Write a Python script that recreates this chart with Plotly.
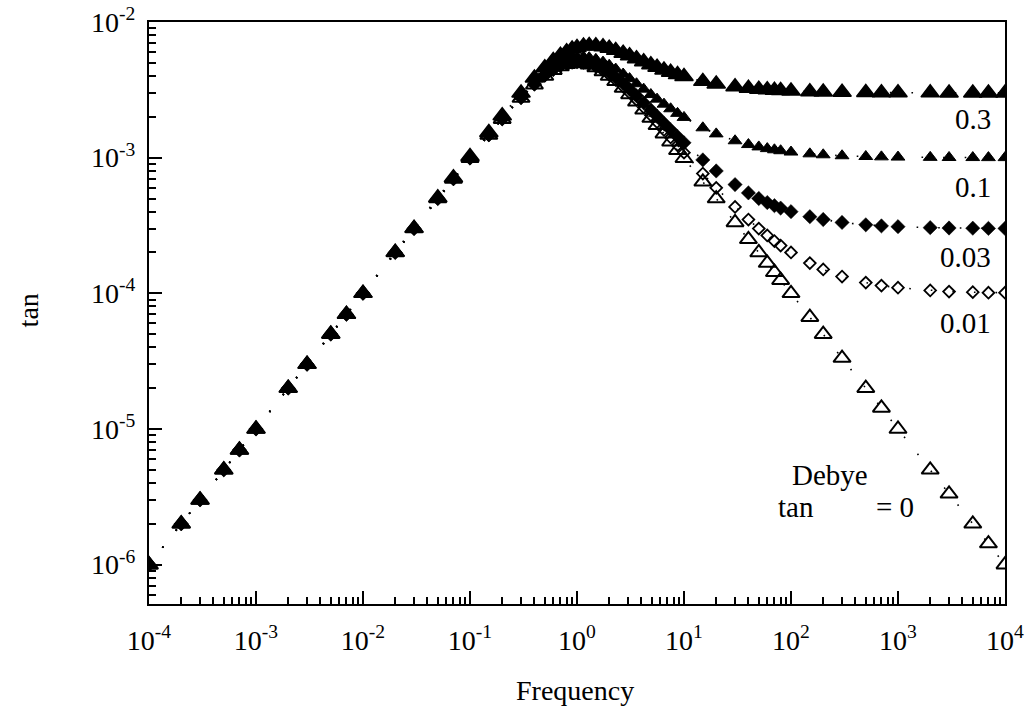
import plotly.graph_objects as go

# Frequencies (shared by all series)
freq = [1e-4, 2e-4, 3e-4, 5e-4, 7e-4,
        1e-3, 2e-3, 3e-3, 5e-3, 7e-3,
        0.01, 0.02, 0.03, 0.05, 0.07,
        0.1, 0.15, 0.2,
        0.3, 0.4, 0.5, 0.6, 0.7, 0.8, 0.9,
        1.0, 1.15, 1.3, 1.5, 1.75,
        2.0, 2.3, 2.7, 3.1, 3.6,
        4.2, 4.9, 5.6, 6.5, 7.5,
        8.7, 10,
        15, 20, 30, 40, 50,
        60, 70, 80, 100,
        150, 200, 300, 500, 700,
        1000, 2000, 3000, 5000, 7000,
        10000]

tan_debye = [1e-6, 2e-6, 3e-6, 5e-6, 7e-6,
             1e-5, 2e-5, 3e-5, 5e-5, 7e-5,
             1.0e-4, 2.0e-4, 3.0e-4, 4.99e-4, 6.97e-4,
             9.90e-4, 1.467e-3, 1.923e-3,
             2.752e-3, 3.448e-3, 4.0e-3, 4.412e-3, 4.698e-3, 4.878e-3, 4.972e-3,
             5.0e-3, 4.952e-3, 4.833e-3, 4.615e-3, 4.308e-3,
             4.0e-3, 3.657e-3, 3.257e-3, 2.922e-3, 2.579e-3,
             2.253e-3, 1.959e-3, 1.731e-3, 1.503e-3, 1.310e-3,
             1.134e-3, 9.90e-4,
             6.64e-4, 4.99e-4, 3.33e-4, 2.50e-4, 2.00e-4,
             1.67e-4, 1.43e-4, 1.25e-4, 1.0e-4,
             6.67e-5, 5.0e-5, 3.33e-5, 2.0e-5, 1.43e-5,
             1.0e-5, 5.0e-6, 3.33e-6, 2.0e-6, 1.43e-6,
             1.0e-6]

tan_001 = [1e-6, 2e-6, 3e-6, 5e-6, 7e-6,
           1e-5, 2e-5, 3e-5, 5e-5, 7e-5,
           1.0e-4, 2.0e-4, 3.0e-4, 4.99e-4, 6.98e-4,
           9.91e-4, 1.469e-3, 1.927e-3,
           2.760e-3, 3.462e-3, 4.02e-3, 4.438e-3, 4.731e-3, 4.917e-3, 5.017e-3,
           5.05e-3, 5.009e-3, 4.896e-3, 4.684e-3, 4.383e-3,
           4.08e-3, 3.741e-3, 3.345e-3, 3.013e-3, 2.672e-3,
           2.348e-3, 2.055e-3, 1.828e-3, 1.601e-3, 1.408e-3,
           1.233e-3, 1.089e-3,
           7.64e-4, 5.99e-4, 4.33e-4, 3.50e-4, 3.00e-4,
           2.67e-4, 2.43e-4, 2.25e-4, 2.00e-4,
           1.67e-4, 1.50e-4, 1.33e-4, 1.20e-4, 1.14e-4,
           1.10e-4, 1.05e-4, 1.03e-4, 1.02e-4, 1.01e-4,
           1.01e-4]

tan_003 = [1e-6, 2e-6, 3e-6, 5e-6, 7e-6,
           1e-5, 2e-5, 3e-5, 5e-5, 7e-5,
           1.0e-4, 2.0e-4, 3.0e-4, 5.0e-4, 6.99e-4,
           9.93e-4, 1.474e-3, 1.935e-3,
           2.777e-3, 3.489e-3, 4.06e-3, 4.491e-3, 4.797e-3, 4.995e-3, 5.106e-3,
           5.15e-3, 5.123e-3, 5.021e-3, 4.823e-3, 4.534e-3,
           4.24e-3, 3.909e-3, 3.521e-3, 3.194e-3, 2.858e-3,
           2.537e-3, 2.247e-3, 2.022e-3, 1.796e-3, 1.605e-3,
           1.430e-3, 1.287e-3,
           9.63e-4, 7.98e-4, 6.33e-4, 5.50e-4, 5.00e-4,
           4.67e-4, 4.43e-4, 4.25e-4, 4.00e-4,
           3.67e-4, 3.50e-4, 3.33e-4, 3.20e-4, 3.14e-4,
           3.10e-4, 3.05e-4, 3.03e-4, 3.02e-4, 3.01e-4,
           3.01e-4]

tan_01 = [1e-6, 2e-6, 3e-6, 5e-6, 7e-6,
          1e-5, 2e-5, 3e-5, 5e-5, 7e-5,
          1.0e-4, 2.0e-4, 3.01e-4, 5.01e-4, 7.02e-4,
          1.0e-3, 1.489e-3, 1.962e-3,
          2.835e-3, 3.586e-3, 4.2e-3, 4.677e-3, 5.027e-3, 5.268e-3, 5.420e-3,
          5.5e-3, 5.521e-3, 5.461e-3, 5.307e-3, 5.062e-3,
          4.8e-3, 4.498e-3, 4.136e-3, 3.828e-3, 3.507e-3,
          3.199e-3, 2.919e-3, 2.700e-3, 2.480e-3, 2.293e-3,
          2.121e-3, 1.980e-3,
          1.660e-3, 1.497e-3, 1.332e-3, 1.249e-3, 1.200e-3,
          1.166e-3, 1.143e-3, 1.125e-3, 1.100e-3,
          1.067e-3, 1.050e-3, 1.033e-3, 1.020e-3, 1.014e-3,
          1.010e-3, 1.005e-3, 1.003e-3, 1.002e-3, 1.001e-3,
          1.001e-3]

tan_03 = [1e-6, 2e-6, 3e-6, 5e-6, 7e-6,
          1e-5, 2.001e-5, 3.003e-5, 5.008e-5, 7.015e-5,
          1.003e-4, 2.012e-4, 3.024e-4, 5.063e-4, 7.112e-4,
          1.020e-3, 1.533e-3, 2.038e-3,
          3.000e-3, 3.862e-3, 4.6e-3, 5.206e-3, 5.685e-3, 6.049e-3, 6.315e-3,
          6.5e-3, 6.660e-3, 6.718e-3, 6.692e-3, 6.570e-3,
          6.4e-3, 6.180e-3, 5.895e-3, 5.639e-3, 5.364e-3,
          5.092e-3, 4.839e-3, 4.638e-3, 4.434e-3, 4.258e-3,
          4.095e-3, 3.960e-3,
          3.651e-3, 3.492e-3, 3.330e-3, 3.248e-3, 3.199e-3,
          3.166e-3, 3.143e-3, 3.125e-3, 3.100e-3,
          3.067e-3, 3.050e-3, 3.033e-3, 3.020e-3, 3.014e-3,
          3.010e-3, 3.005e-3, 3.003e-3, 3.002e-3, 3.001e-3,
          3.001e-3]

x_tick_vals = [1e-4, 1e-3, 1e-2, 1e-1, 1, 10, 100, 1000, 10000]
x_tick_text = ["10<sup>-4</sup>", "10<sup>-3</sup>", "10<sup>-2</sup>", "10<sup>-1</sup>",
               "10<sup>0</sup>", "10<sup>1</sup>", "10<sup>2</sup>", "10<sup>3</sup>", "10<sup>4</sup>"]
y_tick_vals = [1e-6, 1e-5, 1e-4, 1e-3, 1e-2]
y_tick_text = ["10<sup>-6</sup>", "10<sup>-5</sup>", "10<sup>-4</sup>", "10<sup>-3</sup>", "10<sup>-2</sup>"]

minor_x = [m * 10.0 ** e for e in range(-4, 4) for m in range(2, 10)]
minor_y = [m * 10.0 ** e for e in range(-7, -2) for m in range(2, 10)]

FONT = "Liberation Serif, Times New Roman, serif"
dotline = dict(color="black", width=1.6, dash="1.6px,20px")

fig = go.Figure()
fig.add_trace(go.Scatter(x=freq, y=tan_debye, mode="lines+markers", line=dotline,
                         marker=dict(symbol="triangle-up-open", size=15, color="black",
                                     line=dict(width=2, color="black"))))
fig.add_trace(go.Scatter(x=freq, y=tan_001, mode="lines+markers", line=dotline,
                         marker=dict(symbol="diamond-open", size=9, color="black",
                                     line=dict(width=1.8, color="black"))))
fig.add_trace(go.Scatter(x=freq, y=tan_003, mode="lines+markers", line=dotline,
                         marker=dict(symbol="diamond", size=11, color="black",
                                     line=dict(width=0.5, color="black"))))
fig.add_trace(go.Scatter(x=freq, y=tan_01, mode="lines+markers", line=dotline,
                         marker=dict(symbol="triangle-up", size=12, color="black",
                                     line=dict(width=1, color="black"))))
fig.add_trace(go.Scatter(x=freq, y=tan_03, mode="lines+markers", line=dotline,
                         marker=dict(symbol="triangle-up", size=16, color="black",
                                     line=dict(width=1.5, color="black"))))

axis_common = dict(showgrid=False, zeroline=False, showline=True, linecolor="black",
                   linewidth=2, mirror=True, ticks="inside", tickcolor="black",
                   tickwidth=2, ticklen=13, automargin=False, ticklabeloverflow="allow",
                   tickfont=dict(family=FONT, size=28, color="black"))

fig.update_xaxes(type="log", range=[-4, 4], tickvals=x_tick_vals, ticktext=x_tick_text,
                 minor=dict(tickvals=minor_x, ticks="inside", ticklen=7, tickwidth=2,
                            tickcolor="black"),
                 ticklabelstandoff=10, **axis_common)
fig.update_yaxes(type="log", range=[-6.29, -2], tickvals=y_tick_vals, ticktext=y_tick_text,
                 minor=dict(tickvals=minor_y, ticks="inside", ticklen=7, tickwidth=2,
                            tickcolor="black"),
                 ticklabelstandoff=6, **axis_common)

ann_font = dict(family=FONT, size=29, color="black")
annotations = [
    dict(text="0.3", x=0.986, y=0.8333, xanchor="right"),
    dict(text="0.1", x=0.986, y=0.7165, xanchor="right"),
    dict(text="0.03", x=0.986, y=0.5962, xanchor="right"),
    dict(text="0.01", x=0.986, y=0.4828, xanchor="right"),
    dict(text="Debye", x=0.7952, y=0.2216, xanchor="center"),
    dict(text="tan", x=0.7558, y=0.1667, xanchor="center"),
    dict(text="= 0", x=0.8715, y=0.1667, xanchor="center"),
]
for a in annotations:
    fig.add_annotation(xref="paper", yref="paper", showarrow=False, yanchor="middle",
                       font=ann_font, **a)

fig.add_annotation(text="tan", xref="paper", yref="paper", x=-0.141, y=0.505,
                   textangle=-90, showarrow=False, xanchor="center", yanchor="middle",
                   font=dict(family=FONT, size=28, color="black"))
fig.add_annotation(text="Frequency", xref="paper", yref="paper", x=0.4977, y=-0.148,
                   showarrow=False, xanchor="center", yanchor="middle",
                   font=dict(family=FONT, size=28, color="black"))

fig.update_layout(width=1027, height=712, showlegend=False,
                  margin=dict(l=149, r=22, t=22, b=108),
                  paper_bgcolor="white", plot_bgcolor="white")

# remove the default 8px page margin so the figure sits at the window origin
fig.write_html("out.html", config={"displayModeBar": False},
               post_script="document.body.style.margin='0px';document.body.style.overflow='hidden';")
